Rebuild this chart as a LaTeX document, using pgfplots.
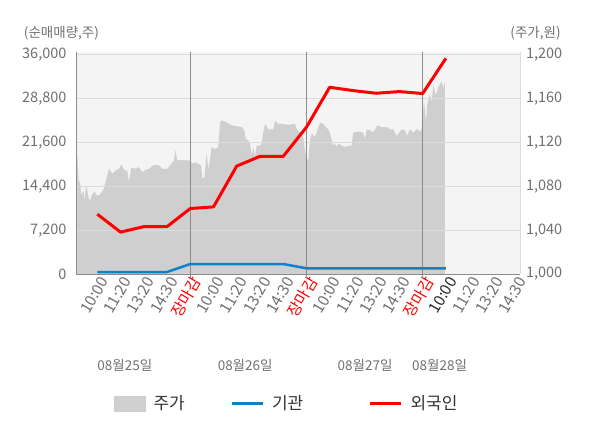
\documentclass[border=0pt]{standalone}
\usepackage{pgfplots}
\pgfplotsset{compat=1.18}
\usepackage{fontspec}
\setmainfont{Noto Sans CJK KR}
\definecolor{pricegray}{HTML}{CFCFCF}
\definecolor{bggray}{HTML}{F4F4F4}
\definecolor{gridgray}{HTML}{DCDCDC}
\definecolor{daygray}{HTML}{8C8C8C}
\definecolor{txtgray}{HTML}{707070}
\definecolor{instblue}{HTML}{0A82CC}
\definecolor{forred}{HTML}{FF0000}
\begin{document}
\begin{tikzpicture}
\path[use as bounding box] (0,0) rectangle (600pt,428pt);
% ---------- price axis (right) ----------
\begin{axis}[
  at={(76pt,154pt)}, anchor=south west, scale only axis,
  width=444pt, height=222pt,
  xmin=-0.917, xmax=18.19, ymin=1000, ymax=1202.5,
  axis background/.style={fill=bggray},
  axis y line*=right, hide x axis,
  y axis line style={draw=gridgray, line width=0.8pt},
  ytick={1000,1040,...,1200},
  major tick length=0pt,
  /pgf/number format/.cd, 1000 sep={,}, fixed, assume math mode=true,
  /pgfplots/.cd,
  yticklabel style={font=\fontsize{14.5}{16}\selectfont, text=txtgray, xshift=2.5pt},
]
\addplot[fill=pricegray, draw=none] coordinates {
(-0.917,1000) (-0.917,1116) (-0.86,1108) (-0.80,1085) (-0.744,1084) (-0.688,1072)
(-0.602,1076) (-0.542,1067) (-0.486,1081) (-0.430,1076) (-0.370,1069) (-0.314,1067)
(-0.215,1073) (-0.112,1075) (0,1071) (0.146,1073) (0.288,1078) (0.404,1088)
(0.503,1096) (0.645,1091.5) (0.792,1094.5) (0.934,1096) (1.033,1100) (1.149,1095)
(1.291,1094) (1.364,1084) (1.463,1097) (1.652,1096) (1.794,1097.5) (1.936,1093)
(2.083,1095) (2.225,1096) (2.440,1099.7) (2.655,1099) (2.797,1096) (3.012,1096)
(3.158,1099.7) (3.300,1103.6) (3.356,1113) (3.442,1103.6) (3.589,1104) (3.731,1103.6)
(3.946,1103.6) (4.019,1102) (4.161,1100.6) (4.204,1102) (4.346,1100.6) (4.462,1099)
(4.518,1088) (4.604,1087) (4.707,1110) (4.776,1094.5) (4.849,1105) (4.923,1115.7)
(5.065,1114) (5.207,1115.7) (5.280,1138.5) (5.379,1140) (5.568,1138.5) (5.783,1135.5)
(6.067,1134.5) (6.213,1134) (6.325,1131) (6.386,1123) (6.497,1122) (6.571,1119)
(6.644,1108) (6.713,1115.7) (6.786,1106.6) (6.859,1117) (7.001,1117) (7.074,1119)
(7.143,1129) (7.216,1137) (7.358,1132) (7.573,1132) (7.646,1140) (7.788,1137)
(7.935,1137) (8.219,1136) (8.507,1137) (8.580,1132) (8.722,1129) (8.864,1125)
(8.937,1112.7) (9.010,1105) (9.079,1103.6) (9.152,1122) (9.225,1128) (9.367,1125)
(9.496,1132) (9.583,1138) (9.712,1137) (9.841,1134) (9.969,1131) (10.097,1122)
(10.129,1117) (10.215,1119) (10.301,1116) (10.370,1119) (10.516,1117) (10.658,1116)
(10.873,1117) (10.938,1117) (11.015,1129) (11.231,1130) (11.446,1129) (11.519,1123)
(11.592,1132) (11.734,1131) (11.876,1129) (12.048,1135.5) (12.238,1134) (12.453,1134)
(12.595,1132) (12.737,1132) (12.883,1126) (13.098,1132) (13.240,1131) (13.339,1126)
(13.455,1132) (13.597,1129) (13.743,1132) (13.929,1130) (14.002,1140) (14.058,1158)
(14.144,1138.5) (14.200,1155) (14.316,1164) (14.389,1157) (14.458,1172) (14.574,1163)
(14.673,1170) (14.819,1176) (14.888,1169) (14.961,1176) (14.961,1000)
};
\end{axis}
% ---------- net-buy axis (left) ----------
\begin{axis}[
  at={(76pt,154pt)}, anchor=south west, scale only axis,
  width=444pt, height=222pt,
  xmin=-0.917, xmax=18.19, ymin=0, ymax=36440,
  clip mode=individual,
  axis x line*=bottom, axis y line*=left,
  axis line style={draw=daygray, line width=0.8pt},
  ytick={0,7200,...,36000},
  ymajorgrids, major grid style={draw=gridgray, line width=0.8pt},
  major tick length=0pt,
  xtick={0,...,18},
  xticklabels={10:00,11:20,13:20,14:30,{\textcolor{forred}{장마감}},
               10:00,11:20,13:20,14:30,{\textcolor{forred}{장마감}},
               10:00,11:20,13:20,14:30,{\textcolor{forred}{장마감}},
               {\textcolor{black!85}{10:00}},11:20,13:20,14:30},
  xticklabel style={rotate=60, anchor=east, font=\fontsize{15.5}{17}\selectfont, text=txtgray, yshift=-8pt, xshift=3pt},
  extra x ticks={4,9,14}, extra x tick labels={},
  extra x tick style={grid=major, major grid style={draw=daygray, line width=0.8pt},
     major tick length=4pt, tick align=outside, tick style={draw=daygray, line width=0.8pt}},
  scaled y ticks=false,
  /pgf/number format/.cd, 1000 sep={,}, fixed, assume math mode=true,
  /pgfplots/.cd,
  yticklabel style={font=\fontsize{14.5}{16}\selectfont, text=txtgray, xshift=-6pt},
  legend columns=3, legend cell align=left,
  legend style={at={(axis description cs:0.0856,-0.584)}, anchor=west, draw=none, fill=none,
     inner sep=0pt, nodes={inner xsep=0pt, inner ysep=1pt, font=\fontsize{17}{19}\selectfont, text=black!80},
     /tikz/every odd column/.append style={column sep=8pt}},
]
\addlegendimage{legend image code/.code={\fill[pricegray] (0pt,-7.5pt) rectangle (31pt,7.5pt);}}
\addlegendentry{\makebox[77pt][l]{주가}}
\addplot[draw=instblue, line width=2.5pt,
  legend image code/.code={\draw[instblue, line width=2.5pt] (0pt,0pt) -- (31pt,0pt);}]
  coordinates {(0,327) (1,327) (2,327) (3,327) (4,1636) (5,1636) (6,1636) (7,1636) (8,1636)
               (9,933) (10,933) (11,933) (12,933) (13,933) (14,933) (15,933)};
\addlegendentry{\makebox[97pt][l]{기관}}
\addplot[draw=forred, line width=3pt, line join=round,
  legend image code/.code={\draw[forred, line width=2.5pt] (0pt,0pt) -- (31pt,0pt);}]
  coordinates {(0,9818) (1,6873) (2,7773) (3,7773) (4,10751) (5,11013) (6,17722) (7,19309)
               (8,19309) (9,24100) (10,30649) (11,30109) (12,29667) (13,29945) (14,29618) (15,35395)};
\addlegendentry{외국인}
\node[font=\fontsize{13.5}{15}\selectfont, text=txtgray] at (axis description cs:-0.0327,1.0856) {(순매매량,주)};
\node[font=\fontsize{13.5}{15}\selectfont, text=txtgray] at (axis description cs:1.035,1.0856) {(주가,원)};
\node[font=\fontsize{13.5}{15}\selectfont, text=txtgray] at (axis description cs:0.110,-0.412) {08월25일};
\node[font=\fontsize{13.5}{15}\selectfont, text=txtgray] at (axis description cs:0.381,-0.412) {08월26일};
\node[font=\fontsize{13.5}{15}\selectfont, text=txtgray] at (axis description cs:0.651,-0.412) {08월27일};
\node[font=\fontsize{13.5}{15}\selectfont, text=txtgray] at (axis description cs:0.819,-0.412) {08월28일};
\end{axis}
\end{tikzpicture}
\end{document}
